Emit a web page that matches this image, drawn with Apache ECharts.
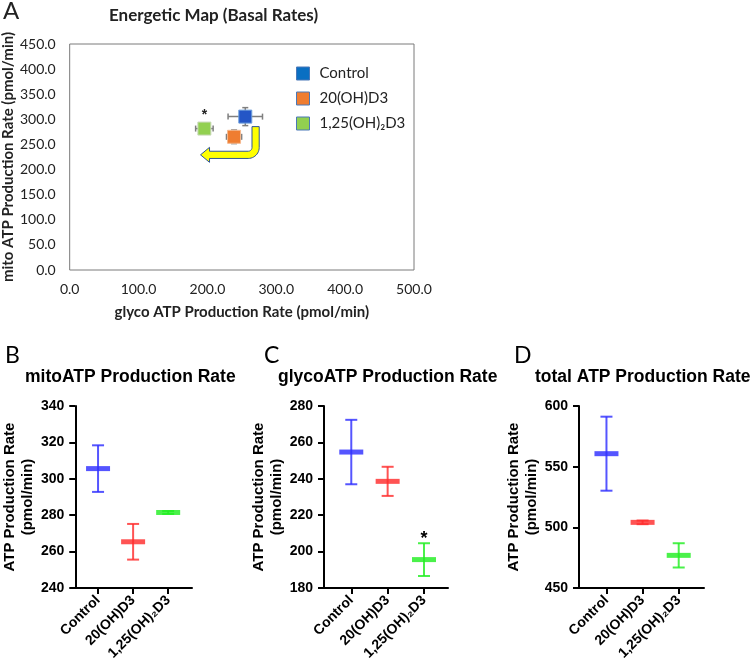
<!DOCTYPE html>
<html><head><meta charset="utf-8">
<script src="https://cdn.jsdelivr.net/npm/echarts@6/dist/echarts.min.js"></script>
<style>html,body{margin:0;padding:0;background:#fff}#c{width:750px;height:663px}</style>
</head><body><div id="c"></div>
<script>
// ---------- data ----------
const groups = ['Control', '20(OH)D3', '1,25(OH)₂D3'];
// Panel A – energetic map (mean ± SD)
const glycoMapMean = [255.0, 238.7, 195.6];
const glycoMapErr  = [25.0, 11.0, 12.7];
const mitoMapMean  = [305.4, 265.2, 281.6];
const mitoMapErr   = [17.9, 13.5, 1.2];
const mapSig       = ['', '', '*'];
const mapXTicks = [0, 100, 200, 300, 400, 500];
const mapYTicks = [0, 50, 100, 150, 200, 250, 300, 350, 400, 450];
// arrow centre line (data units of panel A)
const arrowLine = [[270, 285.5], [270, 229.3], [190, 229.3]];
// Panel B – mitoATP (mean ± SEM)
const mitoMean = [305.6, 265.4, 281.5];
const mitoErr  = [12.8, 9.8, 0.8];
const mitoTicks = [240, 260, 280, 300, 320, 340];
// Panel C – glycoATP
const glycoMean = [254.7, 238.6, 195.6];
const glycoErr  = [17.7, 8.0, 9.0];
const glycoSig  = ['', '', '*'];
const glycoTicks = [180, 200, 220, 240, 260, 280];
// Panel D – total ATP
const totalMean = [560.7, 504.1, 476.9];
const totalErr  = [30.5, 1.5, 10.0];
const totalTicks = [450, 500, 550, 600];

// ---------- styles ----------
const mapColors   = ['#2456c6', '#ef7d31', '#92d050'];
const mapBorders  = ['#6fa0dc', '#f5b88e', '#c9d9b8'];
const legendColors = ['#0a6fc2', '#ef7d31', '#92d050'];
const dotColors   = ['#2f2fff', '#ff2d2d', '#22ee22'];
const ARIAL = 'Liberation Sans, Arial, sans-serif';
const CAL = 'Lato, Carlito, sans-serif';

const chart = echarts.init(document.getElementById('c'), null, {renderer: 'canvas'});

function errBarA(params, api) {
  const x = api.value(0), y = api.value(1), ex = api.value(2), ey = api.value(3);
  const l = api.coord([x - ex, y]), r = api.coord([x + ex, y]);
  const t = api.coord([x, y + ey]), b = api.coord([x, y - ey]);
  const st = {stroke: '#7f7f7f', lineWidth: 1.5};
  const cap = 3;
  return {type: 'group', children: [
    {type: 'line', shape: {x1: l[0], y1: l[1], x2: r[0], y2: r[1]}, style: st},
    {type: 'line', shape: {x1: l[0], y1: l[1] - cap, x2: l[0], y2: l[1] + cap}, style: st},
    {type: 'line', shape: {x1: r[0], y1: r[1] - cap, x2: r[0], y2: r[1] + cap}, style: st},
    {type: 'line', shape: {x1: t[0], y1: t[1], x2: b[0], y2: b[1]}, style: st},
    {type: 'line', shape: {x1: t[0] - cap, y1: t[1], x2: t[0] + cap, y2: t[1]}, style: st},
    {type: 'line', shape: {x1: b[0] - cap, y1: b[1], x2: b[0] + cap, y2: b[1]}, style: st}
  ]};
}

function arrowItem(params, api) {
  const p0 = api.coord(arrowLine[0]), p1 = api.coord(arrowLine[1]), p2 = api.coord(arrowLine[2]);
  const t = 3.6, headHalf = 7.5, headLen = 9, Ro = 11, Ri = Ro - 2 * t;
  const cx = p1[0] + t - Ro, cy = p1[1] + t - Ro;
  const pts = [[p0[0] - t, p0[1]], [p0[0] + t, p0[1]]];
  for (let k = 0; k <= 12; k++) { const a = k / 12 * Math.PI / 2; pts.push([cx + Ro * Math.cos(a), cy + Ro * Math.sin(a)]); }
  pts.push([p2[0] + headLen, p2[1] + t]);
  pts.push([p2[0] + headLen, p2[1] + headHalf]);
  pts.push([p2[0], p2[1]]);
  pts.push([p2[0] + headLen, p2[1] - headHalf]);
  pts.push([p2[0] + headLen, p2[1] - t]);
  for (let k = 12; k >= 0; k--) { const a = k / 12 * Math.PI / 2; pts.push([cx + Ri * Math.cos(a), cy + Ri * Math.sin(a)]); }
  return {type: 'polygon', shape: {points: pts}, style: {fill: '#ffff00', stroke: '#2f5597', lineWidth: 1}};
}

function meanSem(sig) {
  return function (params, api) {
    const x = api.value(0), m = api.value(1), e = api.value(2);
    const c = api.coord([x, m]), tp = api.coord([x, m + e]), bt = api.coord([x, m - e]);
    const col = dotColors[params.dataIndex];
    const st = {stroke: col, lineWidth: 2, opacity: 0.82};
    const ch = [
      {type: 'line', shape: {x1: c[0], y1: tp[1], x2: c[0], y2: bt[1]}, style: st},
      {type: 'line', shape: {x1: c[0] - 6, y1: tp[1], x2: c[0] + 6, y2: tp[1]}, style: st},
      {type: 'line', shape: {x1: c[0] - 6, y1: bt[1], x2: c[0] + 6, y2: bt[1]}, style: st},
      {type: 'line', shape: {x1: c[0] - 12, y1: c[1], x2: c[0] + 12, y2: c[1]}, style: {stroke: col, lineWidth: 5, opacity: 0.82}}
    ];
    if (sig && sig[params.dataIndex]) {
      ch.push({type: 'text', x: c[0], y: tp[1] + 5, style: {text: sig[params.dataIndex], fill: '#000', font: 'bold 18px ' + ARIAL, align: 'center', verticalAlign: 'bottom'}});
    }
    return {type: 'group', children: ch};
  };
}

function catAxis(gi, min, max) {
  return {
    type: 'value', gridIndex: gi, min: min, max: max,
    splitLine: {show: false},
    axisLine: {show: true, onZero: false, lineStyle: {color: '#000', width: 2}},
    axisTick: {show: true, length: 6, lineStyle: {color: '#000', width: 2}, customValues: [1, 2, 3]},
    axisLabel: {show: true, customValues: [1, 2, 3], rotate: 45, margin: 10,
      formatter: v => groups[Math.round(v) - 1] || '',
      fontFamily: ARIAL, fontWeight: 'bold', fontSize: 14, color: '#000'}
  };
}
function valAxis(gi, ticks) {
  return {
    type: 'value', gridIndex: gi, min: ticks[0], max: ticks[ticks.length - 1], interval: ticks[1] - ticks[0],
    splitLine: {show: false},
    axisLine: {show: true, onZero: false, lineStyle: {color: '#000', width: 2}},
    axisTick: {show: true, length: 6, lineStyle: {color: '#000', width: 2}},
    axisLabel: {margin: 11, fontFamily: ARIAL, fontWeight: 'bold', fontSize: 14, color: '#000'},
    name: 'ATP Production Rate\n(pmol/min)', nameLocation: 'middle', nameGap: 31,
    nameTextStyle: {fontFamily: ARIAL, fontWeight: 'bold', fontSize: 15, lineHeight: 18, color: '#000'}
  };
}

const option = {
  backgroundColor: '#fff',
  animation: false,
  title: [
    {text: 'A', left: 3, top: -1, padding: 0, textStyle: {fontFamily: CAL, fontSize: 24, fontWeight: 'normal', color: '#222'}},
    {text: 'Energetic Map (Basal Rates)', left: 109, top: 7, padding: 0, textStyle: {fontFamily: CAL, fontSize: 17, fontWeight: 'bold', color: '#222'}},
    {text: 'B', left: 5, top: 344, padding: 0, textStyle: {fontFamily: CAL, fontSize: 23, fontWeight: 'normal', color: '#000'}},
    {text: 'C', left: 264, top: 344, padding: 0, textStyle: {fontFamily: CAL, fontSize: 23, fontWeight: 'normal', color: '#000'}},
    {text: 'D', left: 514, top: 344, padding: 0, textStyle: {fontFamily: CAL, fontSize: 23, fontWeight: 'normal', color: '#000'}},
    {text: 'mitoATP Production Rate', left: 25, top: 368, padding: 0, textStyle: {fontFamily: ARIAL, fontSize: 17.5, fontWeight: 'bold', color: '#000'}},
    {text: 'glycoATP Production Rate', left: 278, top: 368, padding: 0, textStyle: {fontFamily: ARIAL, fontSize: 17.5, fontWeight: 'bold', color: '#000'}},
    {text: 'total ATP Production Rate', left: 535, top: 368, padding: 0, textStyle: {fontFamily: ARIAL, fontSize: 17.5, fontWeight: 'bold', color: '#000'}}
  ],
  legend: {
    orient: 'vertical', left: 296, top: 66, padding: 0,
    itemWidth: 13, itemHeight: 13, itemGap: 10, selectedMode: false,
    textStyle: {fontFamily: CAL, fontSize: 15, color: '#222', padding: [0, 0, 0, 5]},
    data: groups.map((g, i) => ({name: g, icon: 'rect', itemStyle: {color: legendColors[i], borderColor: '#4a78b8', borderWidth: 1}}))
  },
  grid: [
    {left: 69, top: 44, width: 345, height: 226, show: true, borderColor: '#7a7a7a', borderWidth: 1, backgroundColor: 'transparent'},
    {left: 69, top: 406, width: 123, height: 182},
    {left: 324, top: 406, width: 124, height: 182},
    {left: 579, top: 406, width: 125, height: 182}
  ],
  xAxis: [
    {type: 'value', gridIndex: 0, min: mapXTicks[0], max: mapXTicks[mapXTicks.length - 1], interval: mapXTicks[1] - mapXTicks[0],
      splitLine: {show: false}, axisLine: {show: false}, axisTick: {show: false},
      axisLabel: {margin: 12, formatter: v => v.toFixed(1), fontFamily: CAL, fontSize: 14, color: '#222'},
      name: 'glyco ATP Production Rate (pmol/min)', nameLocation: 'middle', nameGap: 35,
      nameTextStyle: {fontFamily: CAL, fontWeight: 'bold', fontSize: 15, color: '#222'}},
    catAxis(1, 0.35, 3.68),
    catAxis(2, 0.25, 3.66),
    catAxis(3, 0.24, 3.7)
  ],
  yAxis: [
    {type: 'value', gridIndex: 0, min: mapYTicks[0], max: mapYTicks[mapYTicks.length - 1], interval: mapYTicks[1] - mapYTicks[0],
      splitLine: {show: false}, axisLine: {show: false}, axisTick: {show: false},
      axisLabel: {margin: 14, formatter: v => v.toFixed(1), fontFamily: CAL, fontSize: 14, color: '#222'},
      name: 'mito ATP Production Rate (pmol/min)', nameLocation: 'middle', nameGap: 52,
      nameTextStyle: {fontFamily: CAL, fontWeight: 'bold', fontSize: 15, color: '#222'}},
    valAxis(1, mitoTicks),
    valAxis(2, glycoTicks),
    valAxis(3, totalTicks)
  ],
  series: [
    {type: 'custom', name: 'errA', xAxisIndex: 0, yAxisIndex: 0, z: 2, renderItem: errBarA,
      data: groups.map((g, i) => [glycoMapMean[i], mitoMapMean[i], glycoMapErr[i], mitoMapErr[i]]),
      encode: {x: 0, y: 1}, silent: true},
    ...groups.map((g, i) => ({
      type: 'scatter', name: g, xAxisIndex: 0, yAxisIndex: 0, z: 3,
      symbol: 'rect', symbolSize: 13,
      itemStyle: {color: mapColors[i], borderColor: mapBorders[i], borderWidth: 1, opacity: 1},
      label: {show: !!mapSig[i], formatter: () => mapSig[i], position: 'top', distance: -1,
        fontFamily: ARIAL, fontWeight: 'bold', fontSize: 14, color: '#222'},
      data: [[glycoMapMean[i], mitoMapMean[i]]]
    })),
    {type: 'custom', name: 'arrow', xAxisIndex: 0, yAxisIndex: 0, z: 4, renderItem: arrowItem,
      data: [arrowLine[0]], encode: {x: 0, y: 1}, silent: true},
    {type: 'custom', name: 'mito', xAxisIndex: 1, yAxisIndex: 1, renderItem: meanSem(null),
      data: groups.map((g, i) => [i + 1, mitoMean[i], mitoErr[i]]), encode: {x: 0, y: 1}},
    {type: 'custom', name: 'glyco', xAxisIndex: 2, yAxisIndex: 2, renderItem: meanSem(glycoSig),
      data: groups.map((g, i) => [i + 1, glycoMean[i], glycoErr[i]]), encode: {x: 0, y: 1}},
    {type: 'custom', name: 'total', xAxisIndex: 3, yAxisIndex: 3, renderItem: meanSem(null),
      data: groups.map((g, i) => [i + 1, totalMean[i], totalErr[i]]), encode: {x: 0, y: 1}}
  ]
};
chart.setOption(option);
</script>
</body></html>
